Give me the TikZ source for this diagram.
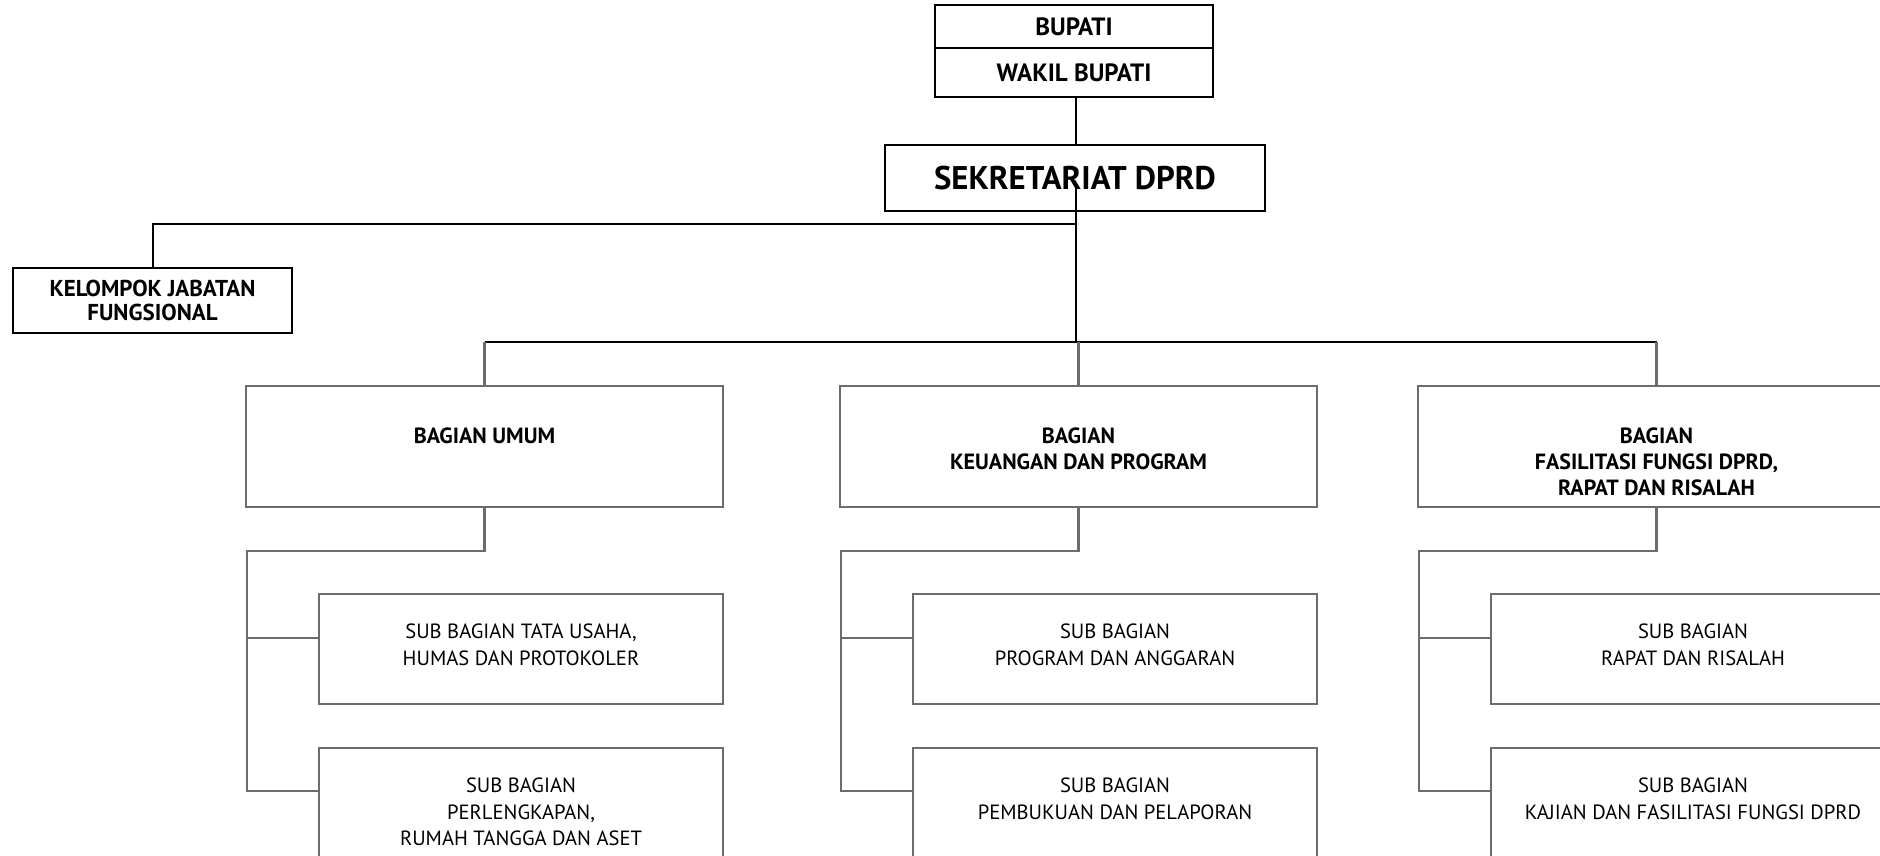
\documentclass[tikz,border=0pt]{standalone}
\usepackage{fontspec}
\setmainfont{PT Sans}
\usetikzlibrary{positioning}

\definecolor{boxgray}{RGB}{108,108,108}

\tikzset{
  topbox/.style={draw=black, line width=1pt, inner sep=0pt, outer sep=0pt,
    font=\bfseries\fontsize{12.5}{14}\selectfont, align=center},
  bagbox/.style={draw=boxgray, line width=1.3pt, inner sep=0pt,
    minimum width=238.5pt, minimum height=60.5pt},
  subbox/.style={draw=boxgray, line width=1.3pt, inner sep=0pt,
    minimum width=202pt, minimum height=55pt},
  bagtext/.style={inner sep=0pt, align=center,
    font=\bfseries\fontsize{11}{13}\selectfont},
  subtext/.style={inner sep=0pt, align=center,
    font=\fontsize{10.3}{13.2}\selectfont},
  topline/.style={draw=black, line width=1pt},
  subline/.style={draw=boxgray, line width=1.3pt}
}

\begin{document}
\begin{tikzpicture}[x=0.5pt, y=-0.5pt]
  \clip (0,0) rectangle (1880,856);

  % pimpinan
  \node[topbox, minimum width=139pt, minimum height=21.5pt] (bupati) at (1074,26.5) {BUPATI};
  \node[topbox, minimum width=139pt, minimum height=24.5pt, below=0pt of bupati] (wakil) {WAKIL BUPATI};
  \node[topbox, minimum width=190pt, minimum height=33pt,
        font=\bfseries\fontsize{16.4}{18}\selectfont] (sek) at (1075,178) {SEKRETARIAT DPRD};
  \node[topbox, minimum width=139.5pt, minimum height=32.5pt,
        font=\bfseries\fontsize{11.5}{12.3}\selectfont] (kel) at (152.5,300.5) {KELOMPOK JABATAN\\FUNGSIONAL};

  % bagian
  \node[bagbox] (umum) at (484.5,446.5) {};
  \node[bagtext, below=21.5pt of umum.north] (umumtxt) {BAGIAN UMUM};
  \node[bagbox] (keu) at (1078.5,446.5) {};
  \node[bagtext, below=21.5pt of keu.north] (keutxt) {BAGIAN\\KEUANGAN DAN PROGRAM};
  \node[bagbox] (fas) at (1656.5,446.5) {};
  \node[bagtext, below=21.5pt of fas.north] (fastxt) {BAGIAN\\FASILITASI FUNGSI DPRD,\\RAPAT DAN RISALAH};

  % sub bagian
  \node[subbox] (tu) at (521,649) {};
  \node[subtext, below=15.5pt of tu.north] (tutxt) {SUB BAGIAN TATA USAHA,\\HUMAS DAN PROTOKOLER};
  \node[subbox] (rt) at (521,803) {};
  \node[subtext, below=15.5pt of rt.north] (rttxt) {SUB BAGIAN\\PERLENGKAPAN,\\RUMAH TANGGA DAN ASET};
  \node[subbox] (prog) at (1115,649) {};
  \node[subtext, below=15.5pt of prog.north] (progtxt) {SUB BAGIAN\\PROGRAM DAN ANGGARAN};
  \node[subbox] (buku) at (1115,803) {};
  \node[subtext, below=15.5pt of buku.north] (bukutxt) {SUB BAGIAN\\PEMBUKUAN DAN PELAPORAN};
  \node[subbox] (rapat) at (1693,649) {};
  \node[subtext, below=15.5pt of rapat.north] (rapattxt) {SUB BAGIAN\\RAPAT DAN RISALAH};
  \node[subbox] (kaji) at (1693,803) {};
  \node[subtext, below=15.5pt of kaji.north] (kajitxt) {SUB BAGIAN\\KAJIAN DAN FASILITASI FUNGSI DPRD};

  % garis atas
  \coordinate (sekjoint) at (1076,188);
  \coordinate (kelturn) at (1076,224);
  \coordinate (bar) at (1076,342);
  \draw[topline] (wakil.south -| sekjoint) -- (sek.north -| sekjoint);
  \draw[topline] (sekjoint) -- (bar);
  \draw[topline] (kel.north) |- (kelturn);
  \draw[topline] (umum.north |- bar) -- (fas.north |- bar);
  \draw[subline] (umum.north) -- (umum.north |- bar);
  \draw[subline] (keu.north) -- (keu.north |- bar);
  \draw[subline] (fas.north) -- (fas.north |- bar);

  % garis sub bagian
  \coordinate (umumjoin) at (247,551);
  \coordinate (keujoin) at (841,551);
  \coordinate (fasjoin) at (1419,551);
  \draw[subline] (umum.south) |- (umumjoin) |- ([yshift=6pt]rt.west);
  \draw[subline] (umumjoin) |- ([yshift=5.5pt]tu.west);
  \draw[subline] (keu.south) |- (keujoin) |- ([yshift=6pt]buku.west);
  \draw[subline] (keujoin) |- ([yshift=5.5pt]prog.west);
  \draw[subline] (fas.south) |- (fasjoin) |- ([yshift=6pt]kaji.west);
  \draw[subline] (fasjoin) |- ([yshift=5.5pt]rapat.west);
\end{tikzpicture}
\end{document}
